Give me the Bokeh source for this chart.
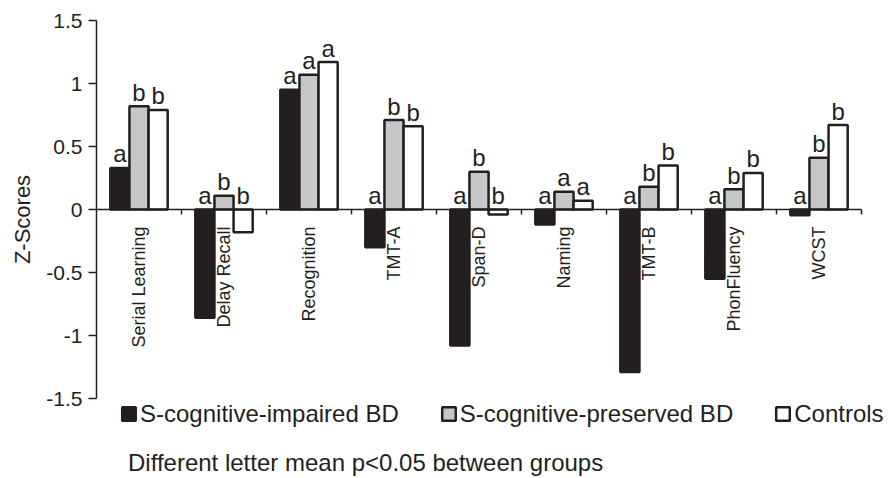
import math
from bokeh.plotting import figure
from bokeh.models import (ColumnDataSource, Range1d, LinearAxis, FixedTicker,
                          NumeralTickFormatter, Legend, LegendItem, Label)
from bokeh.transform import dodge
from bokeh.core.properties import value
from bokeh.embed import file_html
from bokeh.resources import INLINE

# ---------------- data ----------------
categories = ["Serial Learning", "Delay Recall", "Recognition", "TMT-A", "Span-D",
              "Naming", "TMT-B", "PhonFluency", "WCST"]
impaired = [0.33, -0.86, 0.95, -0.30, -1.08, -0.12, -1.29, -0.55, -0.045]
preserved = [0.82, 0.11, 1.07, 0.71, 0.30, 0.14, 0.18, 0.16, 0.41]
controls = [0.79, -0.18, 1.17, 0.66, -0.04, 0.07, 0.35, 0.29, 0.67]
letters_impaired = ["a", "a", "a", "a", "a", "a", "a", "a", "a"]
letters_preserved = ["b", "b", "a", "b", "b", "a", "b", "b", "b"]
letters_controls = ["b", "b", "a", "b", "b", "a", "b", "b", "b"]
group_names = ["S-cognitive-impaired BD", "S-cognitive-preserved BD", "Controls"]
y_ticks = [-1.5, -1, -0.5, 0, 0.5, 1, 1.5]
y_label = "Z-Scores"
note = "Different letter mean p<0.05 between groups"

# ---------------- style ----------------
INK = "#231f20"
FONT = "Liberation Sans"
fills = ["#231f20", "#c6c7c8", "#ffffff"]
bar_w = 0.225
offsets = [-bar_w, 0.0, bar_w]
PX_X = 85.0    # pixels per category
PX_Y = 126.0   # pixels per z unit
X0 = 96.0      # pixel position of x = 0
Y0 = 209.0     # pixel position of y = 0
W, H = 888, 478

n = len(categories)
p = figure(width=W, height=H,
           x_range=Range1d(-X0 / PX_X, (W - X0) / PX_X),
           y_range=Range1d((Y0 - H) / PX_Y, Y0 / PX_Y),
           output_backend="svg", toolbar_location=None,
           x_axis_type=None, y_axis_type=None,
           min_border_left=0, min_border_right=0, min_border_top=0, min_border_bottom=0)
p.outline_line_color = None
p.background_fill_color = "white"
p.border_fill_color = "white"

# y axis (fixed at x = 0)
yaxis = LinearAxis(ticker=FixedTicker(ticks=y_ticks),
                   formatter=NumeralTickFormatter(format="0.[0]"),
                   bounds=(-1.5, 1.5), fixed_location=0)
yaxis.axis_line_color = INK
yaxis.axis_line_width = 1.5
yaxis.major_tick_line_color = INK
yaxis.major_tick_line_width = 1.5
yaxis.major_tick_in = 0
yaxis.major_tick_out = 8
yaxis.minor_tick_out = 0
yaxis.minor_tick_in = 0
yaxis.major_label_standoff = 6
yaxis.major_label_text_font = FONT
yaxis.major_label_text_font_size = "21px"
yaxis.major_label_text_color = INK
p.add_layout(yaxis, "left")

# x axis at zero, labels at group centres, ticks at group boundaries
centers = [i + 0.5 for i in range(n)]
xaxis = LinearAxis(ticker=FixedTicker(ticks=centers, minor_ticks=list(range(1, n + 1))),
                   bounds=(0, n), fixed_location=0)
xaxis.major_label_overrides = {c: cat for c, cat in zip(centers, categories)}
xaxis.axis_line_color = INK
xaxis.axis_line_width = 1.5
xaxis.major_tick_out = 0
xaxis.major_tick_in = 0
xaxis.minor_tick_out = 5
xaxis.minor_tick_in = 0
xaxis.minor_tick_line_color = INK
xaxis.minor_tick_line_width = 1.5
xaxis.major_label_orientation = math.pi / 2
xaxis.major_label_standoff = 12
xaxis.major_label_text_font = FONT
xaxis.major_label_text_font_size = "18px"
xaxis.major_label_text_color = INK
p.add_layout(xaxis, "below")

# bars + significance letters
renderers = []
for vals, lets, off, fill in zip([impaired, preserved, controls],
                                 [letters_impaired, letters_preserved, letters_controls],
                                 offsets, fills):
    src = ColumnDataSource(dict(pos=centers, val=vals,
                                top=[max(v, 0) for v in vals], letter=lets))
    r = p.vbar(x=dodge("pos", off, range=p.x_range), top="val", bottom=0, width=bar_w,
               source=src, fill_color=fill, line_color=INK, line_width=2.5)
    renderers.append(r)
    p.text(x=dodge("pos", off, range=p.x_range), y="top", text="letter", source=src,
           text_align="center", text_baseline="alphabetic", y_offset=-14,
           text_font=value(FONT), text_font_size="24px", text_color=INK)

# legend
legend = Legend(items=[LegendItem(label=nm, renderers=[r]) for nm, r in zip(group_names, renderers)],
                location=(120, H - 414 - 13.5), orientation="horizontal",
                glyph_width=17, glyph_height=17, label_standoff=3, spacing=41,
                padding=0, margin=0, border_line_color=None, background_fill_alpha=0,
                label_text_font=FONT, label_text_font_size="24px", label_text_color=INK)
p.add_layout(legend)

# axis title and note
p.add_layout(Label(x=(22 - X0) / PX_X, y=(Y0 - 219) / PX_Y, text=y_label, angle=math.pi / 2,
                   text_align="center", text_baseline="middle",
                   text_font=FONT, text_font_size="22px", text_color=INK))
p.add_layout(Label(x=(127.5 - X0) / PX_X, y=(Y0 - 462) / PX_Y, text=note,
                   text_align="left", text_baseline="alphabetic",
                   text_font=FONT, text_font_size="24px", text_color=INK))

open("out.html", "w").write(file_html(p, INLINE))
